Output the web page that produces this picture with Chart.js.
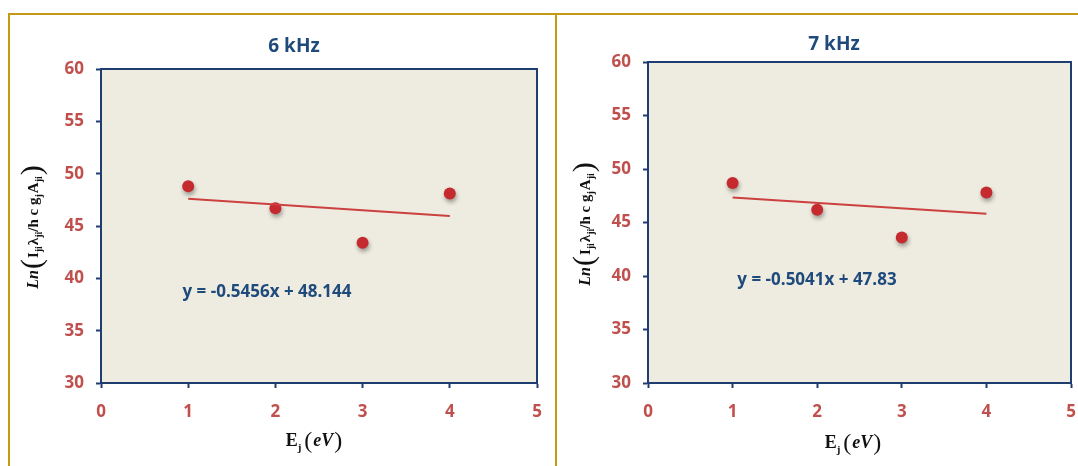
<!DOCTYPE html>
<html>
<head>
<meta charset="utf-8">
<script src="https://cdn.jsdelivr.net/npm/chart.js@4.4.1/dist/chart.umd.min.js"></script>
<style>
  html, body { margin: 0; padding: 0; background: #ffffff; }
  #page { position: relative; width: 1078px; height: 466px; overflow: hidden; background: #fff; }
  .frame { position: absolute; background: #c39a12; }
  canvas { position: absolute; top: 0; }
</style>
</head>
<body>
<div id="page">
  <div class="frame" style="left:8px; top:13px; width:1070px; height:2px;"></div>
  <div class="frame" style="left:8px; top:13px; width:2px; height:453px;"></div>
  <div class="frame" style="left:555px; top:13px; width:2px; height:453px;"></div>
  <div style="position:absolute; left:0; top:0; width:556px; height:466px;"><canvas id="c6"></canvas></div>
  <div style="position:absolute; left:556px; top:0; width:522px; height:466px;"><canvas id="c7"></canvas></div>
</div>
<script>
// Upper-level energy of each line (eV)
const energies = [1, 2, 3, 4];
// Boltzmann-plot ordinate at 6 kHz and 7 kHz
const lnI6kHz = [48.8, 46.7, 43.4, 48.1];
const lnI7kHz = [48.7, 46.2, 43.6, 47.8];
// Linear fits printed on each panel
const fitSlopes = [-0.5456, -0.5041];
const fitIntercepts = [48.144, 47.83];
const fitLabels = ['y = -0.5456x + 48.144', 'y = -0.5041x + 47.83'];
const panelTitles = ['6 kHz', '7 kHz'];
// Axis ranges
const xRange = [0, 5];
const yRange = [30, 60];
const yStep = 5;

const NAVY = '#203d72';
const TICK_RED = '#c0504d';
const TEXT_BLUE = '#1f4a7c';
const DOT_RED = '#c42a2e';
const FIT_RED = '#cc4040';
const PLOT_BG = '#eeebe0';

// Draws a run of text pieces ({t, font, dy}) starting at x, baseline y
function drawRun(ctx, parts, x, y) {
  let cx = x;
  for (const p of parts) {
    ctx.font = p.font;
    ctx.fillText(p.t, cx, y + (p.dy || 0));
    cx += ctx.measureText(p.t).width + (p.gap || 0);
  }
  return cx - x;
}
function runWidth(ctx, parts) {
  let w = 0;
  for (const p of parts) { ctx.font = p.font; w += ctx.measureText(p.t).width + (p.gap || 0); }
  return w;
}

const SERIF = '"Liberation Serif", "DejaVu Serif", serif';
const yTitleParts = [
  { t: 'Ln', font: 'italic bold 16px ' + SERIF, gap: 1 },
  { t: '(', font: '30px ' + SERIF, dy: 3, gap: 1 },
  { t: 'I', font: 'bold 15px ' + SERIF },
  { t: 'ji', font: 'bold 10px ' + SERIF, dy: 4, gap: 1 },
  { t: 'λ', font: 'bold 15px ' + SERIF },
  { t: 'ji', font: 'bold 10px ' + SERIF, dy: 4 },
  { t: '/h c g', font: 'bold 15px ' + SERIF },
  { t: 'j', font: 'bold 10px ' + SERIF, dy: 4, gap: 1 },
  { t: 'A', font: 'bold 15px ' + SERIF },
  { t: 'ji', font: 'bold 10px ' + SERIF, dy: 4, gap: 1 },
  { t: ')', font: '30px ' + SERIF, dy: 3 }
];
const xTitleParts = [
  { t: 'E', font: 'bold 18px ' + SERIF },
  { t: 'j', font: 'bold 11px ' + SERIF, dy: 5, gap: 3 },
  { t: '(', font: '24px ' + SERIF, dy: 2, gap: 1 },
  { t: 'eV', font: 'italic bold 18px ' + SERIF, gap: 1 },
  { t: ')', font: '24px ' + SERIF, dy: 2 }
];

// Plot background, full frame, titles and fit equation
const panelDecor = {
  id: 'panelDecor',
  beforeDraw(chart, args, opts) {
    const { ctx, chartArea: a } = chart;
    ctx.save();
    ctx.fillStyle = PLOT_BG;
    ctx.fillRect(a.left, a.top, a.right - a.left, a.bottom - a.top);
    ctx.restore();
  },
  afterDraw(chart, args, opts) {
    const { ctx, chartArea: a } = chart;
    ctx.save();
    ctx.strokeStyle = NAVY;
    ctx.lineWidth = 2;
    ctx.strokeRect(a.left, a.top, a.right - a.left, a.bottom - a.top);

    // panel title
    ctx.fillStyle = TEXT_BLUE;
    ctx.font = 'bold 19px "Open Sans", "Liberation Sans", sans-serif';
    ctx.textAlign = 'center';
    ctx.textBaseline = 'middle';
    ctx.fillText(opts.title, opts.titleX, opts.titleY);

    // fit equation
    ctx.font = 'bold 17px "Open Sans", "Liberation Sans", sans-serif';
    ctx.fillText(opts.equation, opts.eqX, opts.eqY);

    // axis titles
    ctx.fillStyle = '#111111';
    ctx.textAlign = 'left';
    ctx.textBaseline = 'alphabetic';
    const xw = runWidth(ctx, xTitleParts);
    drawRun(ctx, xTitleParts, opts.xTitleX - xw / 2, opts.xTitleY + 6);

    ctx.translate(opts.yTitleX, opts.yTitleY);
    ctx.rotate(-Math.PI / 2);
    const yw = runWidth(ctx, yTitleParts);
    drawRun(ctx, yTitleParts, -yw / 2, 5);
    ctx.restore();
  },
  beforeDatasetDraw(chart, args) {
    if (args.index === 1) {
      const ctx = chart.ctx;
      ctx.save();
      ctx.shadowColor = 'rgba(0,0,0,0.35)';
      ctx.shadowBlur = 4;
      ctx.shadowOffsetX = 1;
      ctx.shadowOffsetY = 3;
    }
  },
  afterDatasetDraw(chart, args) {
    if (args.index === 1) chart.ctx.restore();
  }
};

function makePanel(canvasId, idx, values, geo) {
  const slope = fitSlopes[idx], icpt = fitIntercepts[idx];
  const xFirst = energies[0], xLast = energies[energies.length - 1];
  const fitLine = [
    { x: xFirst, y: slope * xFirst + icpt },
    { x: xLast, y: slope * xLast + icpt }
  ];
  const pts = energies.map((e, i) => ({ x: e, y: values[i] }));
  const tickFont = { family: '"Open Sans", "Liberation Sans", sans-serif', size: 17, weight: 'bold' };

  return new Chart(document.getElementById(canvasId), {
    type: 'scatter',
    data: {
      datasets: [
        {
          type: 'line',
          data: fitLine,
          borderColor: FIT_RED,
          borderWidth: 2,
          pointRadius: 0,
          fill: false
        },
        {
          data: pts,
          backgroundColor: DOT_RED,
          borderColor: DOT_RED,
          pointRadius: 6,
          pointBorderWidth: 0
        }
      ]
    },
    options: {
      responsive: false,
      animation: false,
      events: [],
      layout: { padding: { top: geo.top, right: geo.right, bottom: 0, left: 0 } },
      plugins: {
        legend: { display: false },
        tooltip: { enabled: false },
        panelDecor: geo.decor
      },
      scales: {
        x: {
          type: 'linear',
          min: xRange[0], max: xRange[1],
          afterFit(s) { s.height = geo.xAxisH; s.paddingLeft = 0; s.paddingRight = 0; },
          border: { display: true, color: NAVY, width: 2 },
          grid: { display: true, drawOnChartArea: false, drawTicks: true, tickLength: 5, tickWidth: 2, tickColor: NAVY },
          ticks: { stepSize: 1, color: TICK_RED, font: tickFont, padding: 14 }
        },
        y: {
          type: 'linear',
          min: yRange[0], max: yRange[1],
          afterFit(s) { s.width = geo.yAxisW; s.paddingTop = 0; s.paddingBottom = 0; },
          border: { display: true, color: NAVY, width: 2 },
          grid: { display: true, drawOnChartArea: false, drawTicks: true, tickLength: 5, tickWidth: 2, tickColor: NAVY },
          ticks: { stepSize: yStep, color: TICK_RED, font: tickFont, padding: 12 }
        }
      }
    },
    plugins: [panelDecor]
  });
}

function sizeCanvas(id, w, h) {
  const c = document.getElementById(id);
  c.width = w; c.height = h;
  c.style.width = w + 'px'; c.style.height = h + 'px';
}
sizeCanvas('c6', 556, 466);
sizeCanvas('c7', 522, 466);

makePanel('c6', 0, lnI6kHz, {
  top: 69, right: 19, xAxisH: 83, yAxisW: 101,
  decor: {
    title: panelTitles[0], titleX: 294, titleY: 47,
    equation: fitLabels[0], eqX: 267, eqY: 292,
    xTitleX: 314, xTitleY: 440,
    yTitleX: 33, yTitleY: 227
  }
});
makePanel('c7', 1, lnI7kHz, {
  top: 62, right: 7, xAxisH: 83, yAxisW: 92,
  decor: {
    title: panelTitles[1], titleX: 278, titleY: 45,
    equation: fitLabels[1], eqX: 261, eqY: 280,
    xTitleX: 297, xTitleY: 442,
    yTitleX: 29, yTitleY: 224
  }
});
</script>
</body>
</html>
